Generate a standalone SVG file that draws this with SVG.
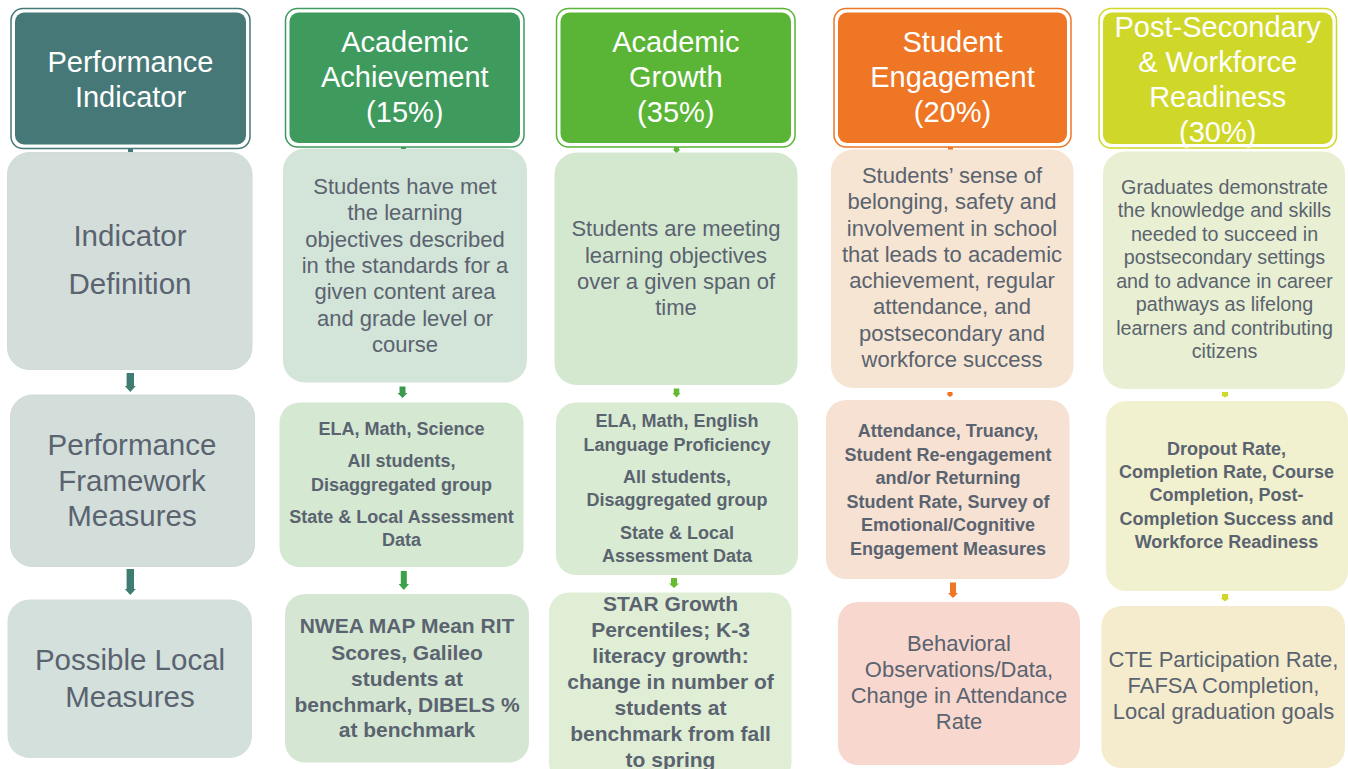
<svg xmlns="http://www.w3.org/2000/svg" width="1348" height="769" viewBox="0 0 1348 769">
  <style>
    text { font-family: "Liberation Sans", Arial, sans-serif; text-anchor: middle; }
    .hd { fill: #ffffff; font-size: 29px; }
    .lbl { fill: #5a636f; font-size: 29.5px; }
    .def { fill: #5a636f; font-size: 22px; }
    .def5 { fill: #5a636f; font-size: 19.7px; }
    .bm { fill: #5a636f; font-size: 18px; font-weight: bold; }
    .bl { fill: #5a636f; font-size: 21px; font-weight: bold; }
    .ring { fill: #ffffff; stroke-width: 1.5; }
  </style>

  <!-- column 1: row labels -->
  <g id="performance-indicator">
    <rect class="ring" x="11" y="8.5" width="239" height="140" rx="12" stroke="#467877"/>
    <rect x="15" y="12.5" width="231" height="132" rx="9" fill="#467877"/>
    <text class="hd" x="130.5" y="72">Performance</text>
    <text class="hd" x="130.5" y="107">Indicator</text>
  </g>
  <g id="indicator-definition">
    <rect x="7.5" y="152.5" width="244.5" height="217" rx="22" fill="#d3dedb" stroke="#d0dad7"/>
    <text class="lbl" x="130" y="246">Indicator</text>
    <text class="lbl" x="130" y="294">Definition</text>
  </g>
  <g id="framework-measures">
    <rect x="10.5" y="395" width="244" height="171.5" rx="22" fill="#d3dedb" stroke="#d0dad7"/>
    <text class="lbl" x="132" y="455">Performance</text>
    <text class="lbl" x="132" y="490.5">Framework</text>
    <text class="lbl" x="132" y="526">Measures</text>
  </g>
  <g id="local-measures">
    <rect x="7.5" y="599.5" width="244.5" height="158.5" rx="22" fill="#d3e0dc"/>
    <text class="lbl" x="130" y="670">Possible Local</text>
    <text class="lbl" x="130" y="706.5">Measures</text>
  </g>

  <!-- column 2: academic achievement -->
  <g id="achievement-header">
    <rect class="ring" x="285.5" y="8.5" width="238.5" height="138.5" rx="12" stroke="#3f9a5e"/>
    <rect x="289.5" y="12.5" width="230.5" height="130.5" rx="9" fill="#3f9a5e"/>
    <text class="hd" x="404.8" y="52">Academic</text>
    <text class="hd" x="404.8" y="87">Achievement</text>
    <text class="hd" x="404.8" y="122">(15%)</text>
  </g>
  <g id="achievement-definition">
    <rect x="283" y="148.5" width="244" height="234" rx="22" fill="#d3e4d8"/>
    <text class="def" x="405" y="193.5">Students have met</text>
    <text class="def" x="405" y="220">the learning</text>
    <text class="def" x="405" y="246.5">objectives described</text>
    <text class="def" x="405" y="273">in the standards for a</text>
    <text class="def" x="405" y="299">given content area</text>
    <text class="def" x="405" y="325.5">and grade level or</text>
    <text class="def" x="405" y="352">course</text>
  </g>
  <g id="achievement-measures">
    <rect x="279.5" y="402.5" width="244" height="164.5" rx="20" fill="#d4e8d2"/>
    <text class="bm" x="401.5" y="435">ELA, Math, Science</text>
    <text class="bm" x="401.5" y="467">All students,</text>
    <text class="bm" x="401.5" y="490.5">Disaggregated group</text>
    <text class="bm" x="401.5" y="522.5">State &amp; Local Assessment</text>
    <text class="bm" x="401.5" y="546">Data</text>
  </g>
  <g id="achievement-local">
    <rect x="285" y="594" width="244" height="168.5" rx="20" fill="#d5e7d3"/>
    <text class="bl" x="407" y="633">NWEA MAP Mean RIT</text>
    <text class="bl" x="407" y="659.5">Scores, Galileo</text>
    <text class="bl" x="407" y="685.5">students at</text>
    <text class="bl" x="407" y="711.5">benchmark, DIBELS %</text>
    <text class="bl" x="407" y="737">at benchmark</text>
  </g>

  <!-- column 3: academic growth -->
  <g id="growth-header">
    <rect class="ring" x="556.5" y="8.5" width="238.5" height="138.5" rx="12" stroke="#5ab536"/>
    <rect x="560.5" y="12.5" width="230.5" height="130.5" rx="9" fill="#5ab536"/>
    <text class="hd" x="675.8" y="52">Academic</text>
    <text class="hd" x="675.8" y="87">Growth</text>
    <text class="hd" x="675.8" y="122">(35%)</text>
  </g>
  <g id="growth-definition">
    <rect x="554.5" y="152.5" width="243" height="232.5" rx="22" fill="#d4e8d0"/>
    <text class="def" x="676" y="236">Students are meeting</text>
    <text class="def" x="676" y="262.5">learning objectives</text>
    <text class="def" x="676" y="288.5">over a given span of</text>
    <text class="def" x="676" y="314.5">time</text>
  </g>
  <g id="growth-measures">
    <rect x="556" y="402.5" width="242" height="172.5" rx="20" fill="#d9ebd2"/>
    <text class="bm" x="677" y="427">ELA, Math, English</text>
    <text class="bm" x="677" y="450.5">Language Proficiency</text>
    <text class="bm" x="677" y="483">All students,</text>
    <text class="bm" x="677" y="506">Disaggregated group</text>
    <text class="bm" x="677" y="538.5">State &amp; Local</text>
    <text class="bm" x="677" y="562">Assessment Data</text>
  </g>
  <g id="growth-local">
    <rect x="549" y="592.5" width="242.5" height="190" rx="20" fill="#e0eed6"/>
    <text class="bl" x="670.5" y="610.5">STAR Growth</text>
    <text class="bl" x="670.5" y="636.5">Percentiles; K-3</text>
    <text class="bl" x="670.5" y="662.5">literacy growth:</text>
    <text class="bl" x="670.5" y="688.5">change in number of</text>
    <text class="bl" x="670.5" y="715">students at</text>
    <text class="bl" x="670.5" y="741">benchmark from fall</text>
    <text class="bl" x="670.5" y="767">to spring</text>
  </g>

  <!-- column 4: student engagement -->
  <g id="engagement-header">
    <rect class="ring" x="834" y="8.5" width="237" height="138.5" rx="12" stroke="#ee7624"/>
    <rect x="838" y="12.5" width="229" height="130.5" rx="9" fill="#ee7624"/>
    <text class="hd" x="952.5" y="52">Student</text>
    <text class="hd" x="952.5" y="87">Engagement</text>
    <text class="hd" x="952.5" y="122">(20%)</text>
  </g>
  <g id="engagement-definition">
    <rect x="831" y="149.5" width="242.5" height="238.5" rx="22" fill="#f5e5d2"/>
    <text class="def" x="952" y="182.5">Students’ sense of</text>
    <text class="def" x="952" y="209">belonging, safety and</text>
    <text class="def" x="952" y="235.5">involvement in school</text>
    <text class="def" x="952" y="261.5">that leads to academic</text>
    <text class="def" x="952" y="288">achievement, regular</text>
    <text class="def" x="952" y="314">attendance, and</text>
    <text class="def" x="952" y="340.5">postsecondary and</text>
    <text class="def" x="952" y="367">workforce success</text>
  </g>
  <g id="engagement-measures">
    <rect x="826" y="400" width="243.5" height="179" rx="20" fill="#f6e1d3"/>
    <text class="bm" x="948" y="437">Attendance, Truancy,</text>
    <text class="bm" x="948" y="460.5">Student Re-engagement</text>
    <text class="bm" x="948" y="484">and/or Returning</text>
    <text class="bm" x="948" y="507.5">Student Rate, Survey of</text>
    <text class="bm" x="948" y="531">Emotional/Cognitive</text>
    <text class="bm" x="948" y="554.5">Engagement Measures</text>
  </g>
  <g id="engagement-local">
    <rect x="838" y="602" width="242" height="163" rx="20" fill="#f8d8ce"/>
    <text class="def" x="959" y="650.5">Behavioral</text>
    <text class="def" x="959" y="676.5">Observations/Data,</text>
    <text class="def" x="959" y="702.5">Change in Attendance</text>
    <text class="def" x="959" y="729">Rate</text>
  </g>

  <!-- column 5: post-secondary and workforce readiness -->
  <g id="readiness-header">
    <rect class="ring" x="1099" y="8.5" width="237.5" height="139.5" rx="12" stroke="#cfd829"/>
    <rect x="1103" y="12.5" width="229.5" height="131.5" rx="9" fill="#cfd829"/>
    <text class="hd" x="1217.7" y="37">Post-Secondary</text>
    <text class="hd" x="1217.7" y="72">&amp; Workforce</text>
    <text class="hd" x="1217.7" y="107">Readiness</text>
    <text class="hd" x="1217.7" y="142">(30%)</text>
  </g>
  <g id="readiness-definition">
    <rect x="1103" y="151.5" width="242" height="237.5" rx="22" fill="#e8efd2"/>
    <text class="def5" x="1224.5" y="193.5">Graduates demonstrate</text>
    <text class="def5" x="1224.5" y="217">the knowledge and skills</text>
    <text class="def5" x="1224.5" y="240.5">needed to succeed in</text>
    <text class="def5" x="1224.5" y="264">postsecondary settings</text>
    <text class="def5" x="1224.5" y="287.5">and to advance in career</text>
    <text class="def5" x="1224.5" y="311">pathways as lifelong</text>
    <text class="def5" x="1224.5" y="334.5">learners and contributing</text>
    <text class="def5" x="1224.5" y="358">citizens</text>
  </g>
  <g id="readiness-measures">
    <rect x="1106" y="401" width="242" height="190" rx="20" fill="#f1f1cf"/>
    <text class="bm" x="1226.5" y="454.5">Dropout Rate,</text>
    <text class="bm" x="1226.5" y="478">Completion Rate, Course</text>
    <text class="bm" x="1226.5" y="501">Completion, Post-</text>
    <text class="bm" x="1226.5" y="524.5">Completion Success and</text>
    <text class="bm" x="1226.5" y="548">Workforce Readiness</text>
  </g>
  <g id="readiness-local">
    <rect x="1101.5" y="606" width="243.5" height="162" rx="20" fill="#f4eccd"/>
    <text class="def" x="1223.5" y="667">CTE Participation Rate,</text>
    <text class="def" x="1223.5" y="692.5">FAFSA Completion,</text>
    <text class="def" x="1223.5" y="718.5">Local graduation goals</text>
  </g>

  <!-- connectors: short block arrows down each column -->
  <g id="connectors">
    <rect x="128" y="149" width="5" height="3" fill="#467877"/>
    <rect x="401" y="147" width="5" height="2" fill="#3f9a5e"/>
    <polygon points="674,147 679,147 679,149.5 680.5,149.5 676.5,153 672.5,149.5 674,149.5" fill="#5ab536"/>
    <rect x="948" y="147" width="5" height="2.5" fill="#ee7624"/>

    <polygon points="126.6,373 134,373 134,386 135.8,386 130.3,392 124.8,386 126.6,386" fill="#3f7d72"/>
    <polygon points="126.6,569 134,569 134,589 135.8,589 130.3,595 124.8,589 126.6,589" fill="#3f7d72"/>

    <polygon points="399.5,386.5 405.5,386.5 405.5,393 407.5,393 402.5,398 397.5,393 399.5,393" fill="#3a9a4e"/>
    <polygon points="400.8,571 406.8,571 406.8,584 409,584 403.8,590 398.6,584 400.8,584" fill="#3ca148"/>

    <polygon points="673.7,388.5 679.3,388.5 679.3,393 680.5,393 676.5,397.5 672.5,393 673.7,393" fill="#67bb32"/>
    <polygon points="671,578 677,578 677,583.5 679,583.5 674,588 669,583.5 671,583.5" fill="#67bb32"/>

    <polygon points="947.5,392 952.5,392 952.5,394.5 953.5,394.5 950,397 946.5,394.5 947.5,394.5" fill="#ee7624"/>
    <polygon points="950,582.5 956,582.5 956,593 958,593 953,598 948,593 950,593" fill="#ee7624"/>

    <polygon points="1222,392 1228,392 1228,395 1229,395 1225,397.5 1221,395 1222,395" fill="#cfd829"/>
    <polygon points="1222,594 1228,594 1228,598 1229.5,598 1225,601.5 1220.5,598 1222,598" fill="#cfd829"/>
  </g>
</svg>
